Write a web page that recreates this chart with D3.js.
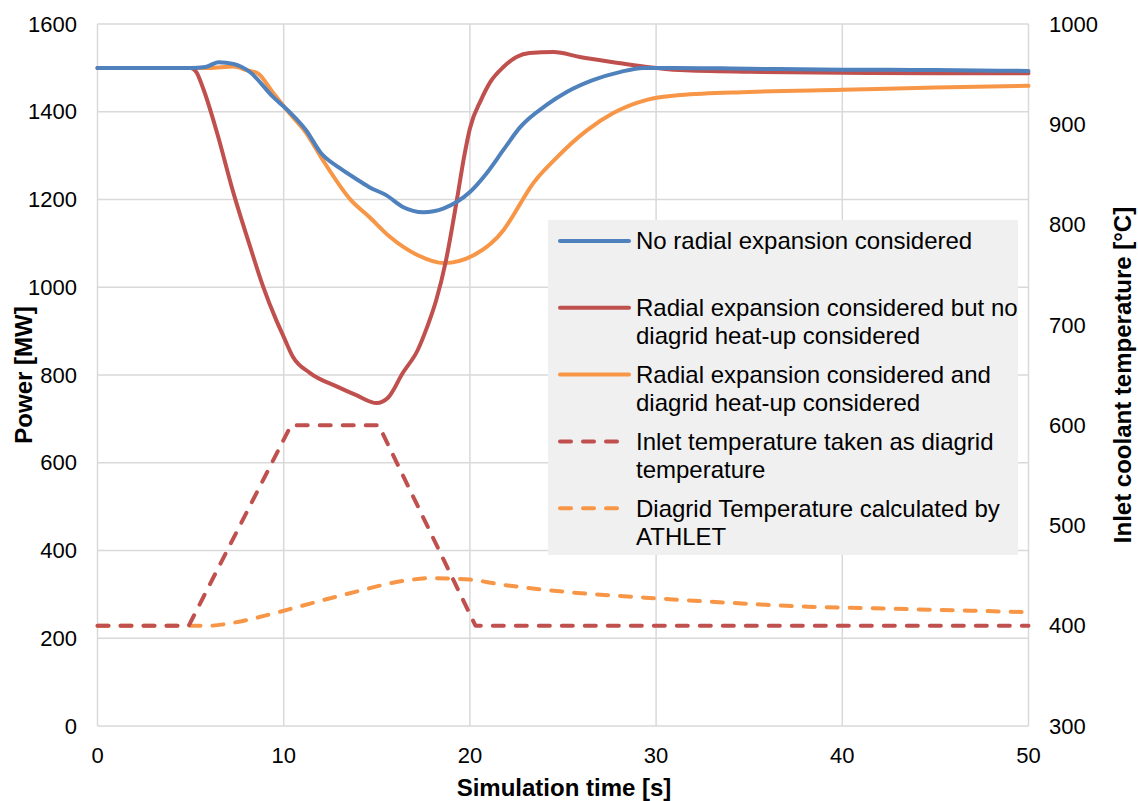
<!DOCTYPE html>
<html>
<head>
<meta charset="utf-8">
<script src="https://cdn.jsdelivr.net/npm/d3@7"></script>
<style>
  body { margin: 0; background: #fff; }
  text { font-family: "Liberation Sans", Arial, sans-serif; fill: #000; }
  .axis-label { font-weight: bold; font-size: 24px; }
  .tick-label { font-size: 22px; }
  .legend-text { font-size: 24px; }
</style>
</head>
<body>
<div class="chart"></div>
<script>
// Power curves (left axis, MW)
const blueT = [0, 5, 5.8, 6.5, 7.3, 8.2, 9.4, 10.3, 11.2, 12, 13, 14, 14.6, 15.5, 16.4, 17.5, 18.6, 20, 20.9, 21.8, 22.7, 24.1, 25.2, 26.6, 28.1, 29.3, 31, 35, 40, 45, 50];
const blueP = [1500, 1500, 1502, 1513, 1509, 1490, 1435, 1400, 1358, 1306, 1272, 1244, 1228, 1210, 1183, 1171, 1180, 1217, 1260, 1313, 1365, 1415, 1445, 1472, 1491, 1500, 1500, 1498, 1496, 1495, 1493];

const redT = [0, 5, 5.3, 5.7, 6.4, 7.3, 8.2, 8.9, 9.6, 10, 10.5, 11.4, 12.9, 13.9, 15, 15.6, 16.4, 17.2, 17.7, 18.2, 18.7, 19.3, 19.7, 20, 20.6, 21.1, 21.8, 22.5, 23.2, 24.5, 25.9, 27.7, 29.5, 31.3, 35, 40, 45, 50];
const redP = [1500, 1500, 1491, 1450, 1355, 1215, 1092, 1001, 925, 887, 841, 805, 773, 754, 736, 748, 805, 857, 909, 972, 1058, 1199, 1300, 1362, 1427, 1468, 1502, 1525, 1534, 1536, 1525, 1513, 1502, 1495, 1491, 1489, 1488, 1488];

const orangeT = [0, 6, 7.3, 8, 8.6, 9.4, 10.3, 11.2, 12.1, 13.6, 14.6, 15.7, 17.2, 18.6, 20.2, 21.8, 22.7, 23.2, 24.7, 26.3, 27.7, 29.5, 31.3, 35, 40, 45, 50];
const orangeP = [1500, 1500, 1503, 1495, 1488, 1445, 1397, 1352, 1290, 1199, 1160, 1115, 1073, 1055, 1073, 1130, 1190, 1225, 1297, 1358, 1397, 1427, 1438, 1445, 1450, 1455, 1459];

// Temperature curves (right axis, °C)
const inletT = [0, 4.9, 10.4, 15.1, 20.3, 50];
const inletC = [400, 400, 600, 600, 400, 400];

const athletT = [0, 6, 7.3, 9.6, 11.8, 13.9, 16.2, 18, 18.9, 20, 21.7, 25, 29.4, 33.8, 38.1, 42.5, 46.9, 50];
const athletC = [400, 400, 403, 413, 424, 434, 444, 447.5, 447, 446, 441, 434, 428, 423, 419, 417, 415, 413.5];

// Ticks
const xTicks = [0, 10, 20, 30, 40, 50];
const leftTicks = [0, 200, 400, 600, 800, 1000, 1200, 1400, 1600];
const rightTicks = [300, 400, 500, 600, 700, 800, 900, 1000];

const legendNames = [
  ["No radial expansion considered"],
  ["Radial expansion considered but no", "diagrid heat-up considered"],
  ["Radial expansion considered and", "diagrid heat-up considered"],
  ["Inlet temperature taken as diagrid", "temperature"],
  ["Diagrid Temperature calculated by", "ATHLET"]
];

// size of the picture and plot area
const width = 1138;
const height = 801;
const plot = {left: 97.5, right: 1028.5, top: 24, bottom: 726};

const svg = d3.select(".chart")
  .append("svg")
    .attr("width", width)
    .attr("height", height);

const x = d3.scaleLinear().domain([0, 50]).range([plot.left, plot.right]);
const yL = d3.scaleLinear().domain([0, 1600]).range([plot.bottom, plot.top]);
const yR = d3.scaleLinear().domain([300, 1000]).range([plot.bottom, plot.top]);

// grid lines
svg.append("g")
  .selectAll("line")
  .data(leftTicks)
  .enter()
  .append("line")
    .attr("x1", plot.left)
    .attr("x2", plot.right)
    .attr("y1", d => yL(d))
    .attr("y2", d => yL(d))
    .attr("stroke", "#d9d9d9")
    .attr("stroke-width", 1.5);

svg.append("g")
  .selectAll("line")
  .data(xTicks)
  .enter()
  .append("line")
    .attr("x1", d => x(d))
    .attr("x2", d => x(d))
    .attr("y1", plot.top)
    .attr("y2", plot.bottom)
    .attr("stroke", "#d9d9d9")
    .attr("stroke-width", 1.5);

// tick labels
svg.append("g")
  .selectAll("text")
  .data(leftTicks)
  .enter()
  .append("text")
    .attr("class", "tick-label")
    .attr("x", 77)
    .attr("y", d => yL(d))
    .attr("dy", "0.35em")
    .attr("text-anchor", "end")
    .text(d => d);

svg.append("g")
  .selectAll("text")
  .data(rightTicks)
  .enter()
  .append("text")
    .attr("class", "tick-label")
    .attr("x", 1049)
    .attr("y", d => yR(d))
    .attr("dy", "0.35em")
    .text(d => d);

svg.append("g")
  .selectAll("text")
  .data(xTicks)
  .enter()
  .append("text")
    .attr("class", "tick-label")
    .attr("x", d => x(d))
    .attr("y", 763)
    .attr("text-anchor", "middle")
    .text(d => d);

// axis titles
svg.append("text")
  .attr("class", "axis-label")
  .attr("x", (plot.left + plot.right) / 2 + 1)
  .attr("y", 796)
  .attr("text-anchor", "middle")
  .text("Simulation time [s]");

svg.append("text")
  .attr("class", "axis-label")
  .attr("transform", `translate(32, ${(plot.top + plot.bottom) / 2}) rotate(-90)`)
  .attr("text-anchor", "middle")
  .text("Power [MW]");

svg.append("text")
  .attr("class", "axis-label")
  .attr("transform", `translate(1131, ${(plot.top + plot.bottom) / 2}) rotate(-90)`)
  .attr("text-anchor", "middle")
  .text("Inlet coolant temperature [°C]");

// series
const series = [
  {t: athletT, v: athletC, y: yR, color: "#F79646", dash: "11,12", curve: d3.curveMonotoneX},
  {t: inletT, v: inletC, y: yR, color: "#C0504D", dash: "11,12", curve: d3.curveLinear},
  {t: orangeT, v: orangeP, y: yL, color: "#F79646", dash: null, curve: d3.curveMonotoneX},
  {t: redT, v: redP, y: yL, color: "#C0504D", dash: null, curve: d3.curveMonotoneX},
  {t: blueT, v: blueP, y: yL, color: "#4F81BD", dash: null, curve: d3.curveMonotoneX}
];

series.forEach(s => {
  const line = d3.line()
    .x((d, i) => x(s.t[i]))
    .y(d => s.y(d))
    .curve(s.curve);
  svg.append("path")
    .attr("d", line(s.v))
    .attr("fill", "none")
    .attr("stroke", s.color)
    .attr("stroke-width", 4)
    .attr("stroke-linecap", "round")
    .attr("stroke-linejoin", "round")
    .attr("stroke-dasharray", s.dash);
});

// legend
const legendStyle = [
  {color: "#4F81BD", dash: null},
  {color: "#C0504D", dash: null},
  {color: "#F79646", dash: null},
  {color: "#C0504D", dash: "11,12"},
  {color: "#F79646", dash: "11,12"}
];

const legend = svg.append("g");
legend.append("rect")
  .attr("x", 548)
  .attr("y", 220)
  .attr("width", 470)
  .attr("height", 335)
  .attr("fill", "#f0f0f0");

const rows = legend.selectAll("g.row")
  .data(legendNames)
  .enter()
  .append("g")
    .attr("class", "row")
    .attr("transform", (d, i) => `translate(0, ${241 + i * 66.8})`);

rows.append("line")
  .attr("x1", 560)
  .attr("x2", (d, i) => legendStyle[i].dash ? 624 : 629)
  .attr("stroke", (d, i) => legendStyle[i].color)
  .attr("stroke-width", 4)
  .attr("stroke-linecap", "round")
  .attr("stroke-dasharray", (d, i) => legendStyle[i].dash);

rows.each(function(d) {
  d3.select(this).selectAll("text")
    .data(d)
    .enter()
    .append("text")
      .attr("class", "legend-text")
      .attr("x", 636)
      .attr("y", (t, j) => j * 28)
      .attr("dy", "0.35em")
      .text(t => t);
});
</script>
</body>
</html>
